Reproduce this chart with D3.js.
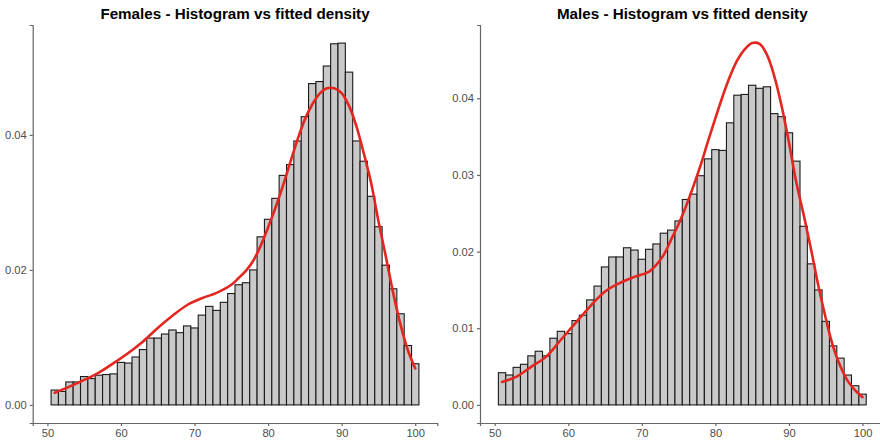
<!DOCTYPE html>
<html>
<head>
<meta charset="utf-8">
<script src="https://cdn.jsdelivr.net/npm/d3@7"></script>
<style>
	body { margin: 0; background: #fff; }
	svg { display: block; font-family: "Liberation Sans", Arial, sans-serif; }
	.axis path, .axis line { stroke: #666666; stroke-width: 1.2; }
	.axis text { fill: #4d4d4d; font-size: 11.2px; }
	.title { font-size: 15.2px; font-weight: bold; fill: #000; }
	.bar { fill: #c9c9c9; stroke: #1a1a1a; stroke-width: 1.1; }
	.density { fill: none; stroke: #e3261f; stroke-width: 2.6; }
</style>
</head>
<body>
<div id="chart"></div>
<script>
// bin centres (bins are 1 wide, 50.5 .. 100.5)
var binCenters = d3.range(51, 101);

// histogram densities
var femaleBars = [
	0.0022, 0.0020, 0.0034, 0.0034, 0.0042, 0.0039, 0.0044, 0.0045, 0.0046, 0.0063,
	0.0062, 0.0071, 0.0082, 0.0099, 0.0099, 0.0105, 0.0111, 0.0107, 0.0117, 0.0114,
	0.0133, 0.0146, 0.0140, 0.0152, 0.0165, 0.0178, 0.0181, 0.0200, 0.0249, 0.0275,
	0.0306, 0.0340, 0.0356, 0.0391, 0.0427, 0.0476, 0.0479, 0.0502, 0.0535, 0.0536,
	0.0493, 0.0391, 0.0361, 0.0309, 0.0264, 0.0207, 0.0172, 0.0135, 0.0088, 0.0061
];
var maleBars = [
	0.0042, 0.0039, 0.0049, 0.0053, 0.0064, 0.0070, 0.0064, 0.0087, 0.0096, 0.0093,
	0.0110, 0.0117, 0.0137, 0.0155, 0.0180, 0.0193, 0.0193, 0.0205, 0.0202, 0.0190,
	0.0203, 0.0210, 0.0224, 0.0228, 0.0240, 0.0268, 0.0275, 0.0299, 0.0321, 0.0333,
	0.0332, 0.0368, 0.0404, 0.0405, 0.0417, 0.0413, 0.0415, 0.0380, 0.0376, 0.0355,
	0.0318, 0.0233, 0.0184, 0.0150, 0.0109, 0.0077, 0.0061, 0.0039, 0.0025, 0.0014
];

// fitted density curves
var femaleCurveX = [51, 53, 55, 57, 59, 61, 63, 65, 67, 69, 71, 73, 75, 76, 77, 78, 79, 80,
	81, 82, 83, 84, 85, 86, 87, 88, 89, 90, 91, 92, 93, 94, 95, 96, 97, 98, 99, 100];
var femaleCurveY = [0.0018, 0.0027, 0.0037, 0.0048, 0.0062, 0.0077, 0.0094, 0.0114, 0.0132,
	0.0148, 0.0158, 0.0166, 0.0178, 0.0188, 0.0199, 0.0214, 0.0236, 0.0263, 0.0292, 0.0324,
	0.0359, 0.0393, 0.0423, 0.0445, 0.0461, 0.0469, 0.0469, 0.0462, 0.0443, 0.0413, 0.0373,
	0.0329, 0.0272, 0.0220, 0.0166, 0.0119, 0.0081, 0.0054];
var maleCurveX = [51, 53, 55, 57, 59, 61, 63, 65, 67, 69, 71, 72, 73, 74, 75, 76, 77, 78, 79,
	80, 81, 82, 83, 84, 85, 86, 87, 88, 89, 90, 91, 92, 93, 94, 95, 96, 97, 98, 99, 100];
var maleCurveY = [0.0030, 0.0037, 0.0050, 0.0063, 0.0085, 0.0107, 0.0129, 0.0148, 0.0159,
	0.0167, 0.0174, 0.0183, 0.0196, 0.0216, 0.0236, 0.0259, 0.0285, 0.0313, 0.0344, 0.0374,
	0.0403, 0.0429, 0.0450, 0.0464, 0.0472, 0.0471, 0.0457, 0.0429, 0.0390, 0.0342, 0.0290,
	0.0248, 0.0203, 0.0155, 0.0113, 0.0076, 0.0050, 0.0031, 0.0019, 0.0010];

var xTicks = [50, 60, 70, 80, 90, 100];
var femaleYTicks = [0, 0.02, 0.04];
var maleYTicks = [0, 0.01, 0.02, 0.03, 0.04];

var titles = ["Females - Histogram vs fitted density", "Males - Histogram vs fitted density"];

var W = 880, H = 440;

var svg = d3.select("#chart").append("svg")
	.attr("width", W)
	.attr("height", H);

function drawPanel(left, right, title, bars, curveX, curveY, yTicks) {
	var top = 25, bottom = 423;

	// x: bins span 50.5..100.5, padded 5% like ggplot
	var x = d3.scaleLinear().domain([48, 103]).range([left, right]);

	var ymax = Math.max(d3.max(bars), d3.max(curveY));
	var pad = ymax * 0.05;
	var y = d3.scaleLinear().domain([-pad, ymax + pad]).range([bottom, top]);

	var g = svg.append("g");

	// histogram bars
	g.selectAll("rect.bar")
		.data(bars)
		.join("rect")
		.attr("class", "bar")
		.attr("x", (d, i) => x(binCenters[i] - 0.5))
		.attr("width", (d, i) => x(binCenters[i] + 0.5) - x(binCenters[i] - 0.5))
		.attr("y", d => y(d))
		.attr("height", d => y(0) - y(d));

	// fitted density
	var line = d3.line()
		.x((d, i) => x(curveX[i]))
		.y(d => y(d))
		.curve(d3.curveCatmullRom.alpha(0.5));

	g.append("path")
		.attr("class", "density")
		.attr("stroke-linecap", "round")
		.attr("d", line(curveY));

	// axes
	g.append("g")
		.attr("class", "axis")
		.attr("transform", "translate(0," + bottom + ")")
		.call(d3.axisBottom(x).tickValues(xTicks).tickSizeOuter(0).tickSize(3).tickPadding(3))
		.call(a => a.selectAll("text").attr("dy", "0.75em"));

	g.append("g")
		.attr("class", "axis")
		.attr("transform", "translate(" + left + ",0)")
		.call(d3.axisLeft(y).tickValues(yTicks).tickFormat(d3.format(".2f"))
			.tickSizeOuter(0).tickSize(3).tickPadding(3));

	g.selectAll(".axis text").attr("font-family", null).attr("font-size", null);

	// title
	g.append("text")
		.attr("class", "title")
		.attr("text-anchor", "middle")
		.attr("x", (left + right) / 2)
		.attr("y", 18.5)
		.text(title);
}

drawPanel(32.7, 437.3, titles[0], femaleBars, femaleCurveX, femaleCurveY, femaleYTicks);
drawPanel(480, 884.6, titles[1], maleBars, maleCurveX, maleCurveY, maleYTicks);
</script>
</body>
</html>
